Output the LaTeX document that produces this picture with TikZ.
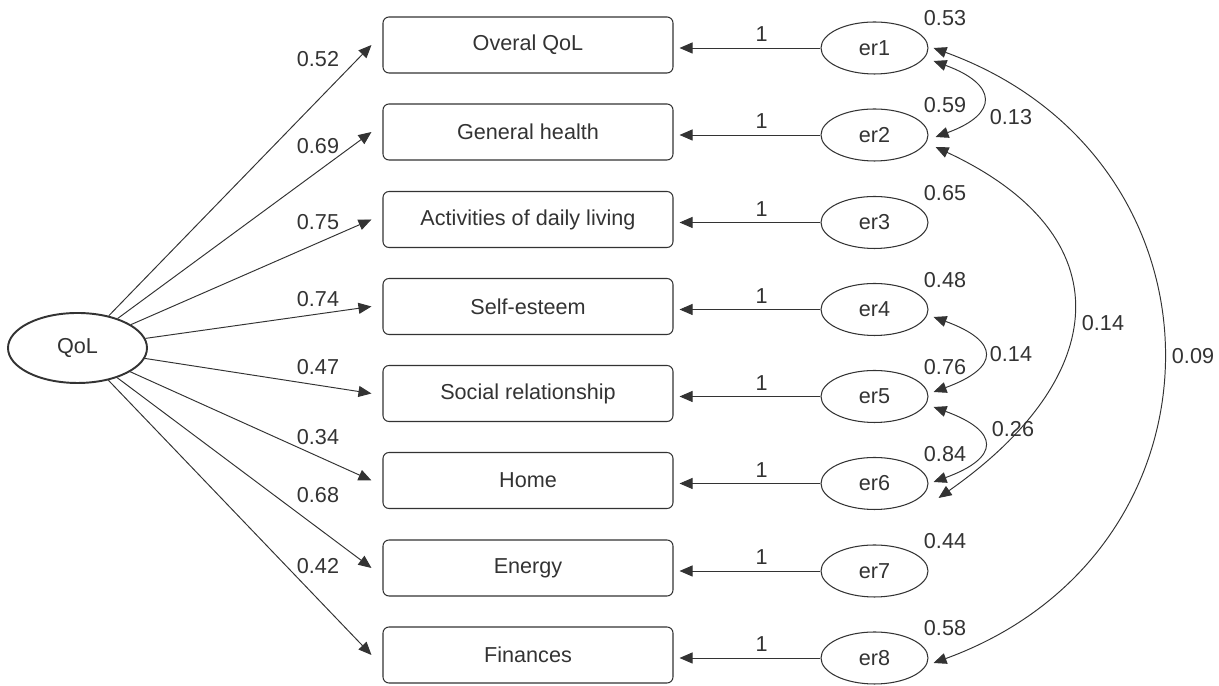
\documentclass[tikz,border=0pt]{standalone}
\usepackage{fontspec}
\setmainfont{Liberation Sans}
\usetikzlibrary{arrows.meta,shapes.geometric}
\definecolor{ink}{HTML}{333333}
\tikzset{
	semtip/.tip={Triangle[length=0.26cm,width=0.22cm]},
	item/.style={draw=ink, line width=0.6pt, rounded corners=0.12cm, minimum width=5.8cm, minimum height=1.12cm},
	err/.style={draw=ink, line width=0.6pt, ellipse, inner sep=0pt, minimum width=2.14cm, minimum height=1.04cm},
	latent/.style={draw=ink, line width=1.1pt, ellipse, inner sep=0pt, minimum width=2.78cm, minimum height=1.40cm},
	load/.style={-semtip, draw=ink, line width=0.55pt},
	cov/.style={semtip-semtip, draw=ink, line width=0.55pt},
	num/.style={text=ink}
}

\begin{document}
\begin{tikzpicture}[font=\fontsize{12.3}{14}\selectfont, text=ink]
		%%%%% START %%%%%
		\useasboundingbox (0, 0) rectangle (24.38, 13.72);
		
		\node[latent] (qol) at (1.55, 6.76) {QoL};
		
		\foreach \i/\txt/\y in {1/Overal QoL/12.82, 2/General health/11.08, 3/Activities of daily living/9.33, 4/Self-esteem/7.59, 5/Social relationship/5.85, 6/Home/4.11, 7/Energy/2.36, 8/Finances/0.62} {
			\node[item] (b\i) at (10.56, \y) {\txt};
			\node[err] (er\i) at (17.49, \y-0.06) {er\i};
			\draw[load, shorten >=0.12cm] (er\i.west) -- (b\i.east |- er\i.west) node[num, above, pos=0.4] {1};
		}
		
		\foreach \i/\v/\ly in {1/0.52/12.54, 2/0.69/10.80, 3/0.75/9.28, 4/0.74/7.74, 5/0.47/6.38, 6/0.34/4.98, 7/0.68/3.82, 8/0.42/2.40} {
			\draw[load] (qol) -- ([xshift=-0.22cm]b\i.west);
			\node[num] (ld\i) at (6.36, \ly) {\v};
		}
		
		\foreach \i/\v in {1/0.53, 2/0.59, 3/0.65, 4/0.48, 5/0.76, 6/0.84, 7/0.44, 8/0.58}
			\node[num] (var\i) at ([shift={(1.41, 0.59)}]er\i) {\v};
		
		\draw[cov] ([shift={(0.10, -0.26)}]er1.east) to[out=-20, in=20, distance=1.36cm] ([shift={(0.14, -0.04)}]er2.east);
		\draw[cov] ([shift={(0.10, -0.15)}]er4.east) to[out=-20, in=20, distance=1.42cm] ([shift={(0.10, 0.09)}]er5.east);
		\draw[cov] ([shift={(0.10, -0.21)}]er5.east) to[out=-20, in=20, distance=1.42cm] ([shift={(0.10, 0.03)}]er6.east);
		\draw[cov] ([shift={(0.14, -0.24)}]er2.east) to[out=-25, in=35, distance=4.2cm] ([shift={(0.20, -0.29)}]er6.east);
		\draw[cov] ([shift={(0.10, 0)}]er1.east) to[out=-20, in=20, distance=6.5cm] ([shift={(0.10, -0.10)}]er8.east);
		
		\node[num] (c12) at (20.22, 11.38) {0.13};
		\node[num] (c45) at (20.22, 6.64) {0.14};
		\node[num] (c56) at (20.26, 5.14) {0.26};
		\node[num] (c26) at (22.06, 7.26) {0.14};
		\node[num] (c18) at (23.86, 6.60) {0.09};
		
		%%%%% END %%%%%
	\end{tikzpicture}
\end{document}
